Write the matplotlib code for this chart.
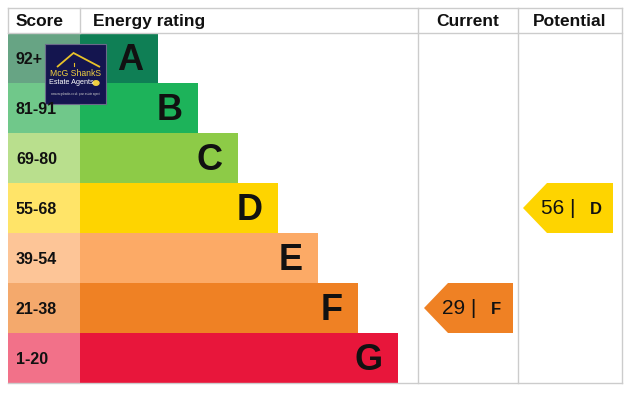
import matplotlib.pyplot as plt
from matplotlib.patches import Rectangle, Polygon, Ellipse

# data
bands = ['A', 'B', 'C', 'D', 'E', 'F', 'G']
scores = ['92+', '81-91', '69-80', '55-68', '39-54', '21-38', '1-20']
bar_len = [78, 118, 158, 198, 238, 278, 318]
bar_col = ['#0f7f55', '#1db35a', '#8dcb47', '#fed400', '#fcaa66', '#ef8124', '#e8163b']
score_col = ['#67a484', '#70c88a', '#b9df8d', '#ffe468', '#fdc597', '#f4a96c', '#f27189']
current = 29
current_band = 'F'
potential = 56
potential_band = 'D'

plt.rcParams['font.family'] = ['Liberation Sans', 'DejaVu Sans']

fig = plt.figure(figsize=(6.38, 4.05), dpi=100)
ax = fig.add_axes([0, 0, 1, 1])
ax.set_xlim(0, 638)
ax.set_ylim(405, 0)
ax.axis('off')

top, head_h, row_h = 8, 25, 50
left, score_w = 8, 72
x_cur, x_pot, right = 418, 518, 622
bottom = top + head_h + row_h * len(bands)
grid = '#cccccc'
ink = '#111111'

# header
hy = top + head_h / 2 + 1
ax.text(16, hy, 'Score', fontsize=12.5, fontweight='bold', va='center', color=ink)
ax.text(93, hy, 'Energy rating', fontsize=12.5, fontweight='bold', va='center', color=ink)
ax.text((x_cur + x_pot) / 2, hy, 'Current', fontsize=12.5, fontweight='bold', va='center', ha='center', color=ink)
ax.text((x_pot + right) / 2, hy, 'Potential', fontsize=12.5, fontweight='bold', va='center', ha='center', color=ink)

# rows
for i, b in enumerate(bands):
    y0 = top + head_h + i * row_h
    ax.add_patch(Rectangle((left, y0), score_w, row_h, color=score_col[i], lw=0))
    ax.add_patch(Rectangle((left + score_w, y0), bar_len[i], row_h, color=bar_col[i], lw=0))
    ax.text(16, y0 + row_h / 2 + 1, scores[i], fontsize=11.5, fontweight='bold', va='center', color=ink)
    ax.text(left + score_w + bar_len[i] - 15, y0 + row_h / 2 + 12, b, fontsize=26, fontweight='bold',
            va='baseline', ha='right', color=ink)

# grid lines
ax.plot([left, right], [top, top], color=grid, lw=1)
ax.plot([left, right], [top + head_h, top + head_h], color=grid, lw=1)
ax.plot([left, right], [bottom, bottom], color=grid, lw=1)
ax.plot([left, left], [top, top + head_h], color=grid, lw=1)
ax.plot([left + score_w, left + score_w], [top, top + head_h], color=grid, lw=1)
for x in [x_cur, x_pot, right]:
    ax.plot([x, x], [top, bottom], color=grid, lw=1)


def arrow(x0, x1, band, value):
    i = bands.index(band)
    y0 = top + head_h + i * row_h
    y1 = y0 + row_h
    ym = (y0 + y1) / 2
    pts = [(x0, ym), (x0 + 24, y0), (x1, y0), (x1, y1), (x0 + 24, y1)]
    ax.add_patch(Polygon(pts, closed=True, color=bar_col[i], lw=0))
    ax.text(x0 + 18, ym, f'{value} |', fontsize=15, va='center', color=ink)
    ax.text(x1 - 17, ym + 1, band, fontsize=12, fontweight='bold', va='center', ha='center', color=ink)


arrow(424, 513, current_band, current)
arrow(523, 613, potential_band, potential)

# logo
ax.add_patch(Rectangle((45, 44), 61, 60, facecolor='#14154f', edgecolor='#6a6a8a', lw=0.8))
ax.add_patch(Polygon([(57, 67), (73.5, 53), (100, 67)], closed=False, fill=False, edgecolor='#e8c22a', lw=1.3))
ax.plot([73.5, 73.5], [63, 66], color='#e8c22a', lw=0.8)
ax.text(76, 74, 'McG ShankS', fontsize=6.2, color='#f0d040', ha='center', va='center')
ax.text(71.5, 83, 'Estate Agents', fontsize=5.2, color='white', ha='center', va='center')
ax.add_patch(Ellipse((96, 83), 6, 4.5, color='#f0d040'))
ax.text(75, 94, 'www.mcgshanks.co.uk  your estate agent', fontsize=1.9, color='#cccccc', ha='center', va='center')

plt.savefig('out.png', dpi=100)
